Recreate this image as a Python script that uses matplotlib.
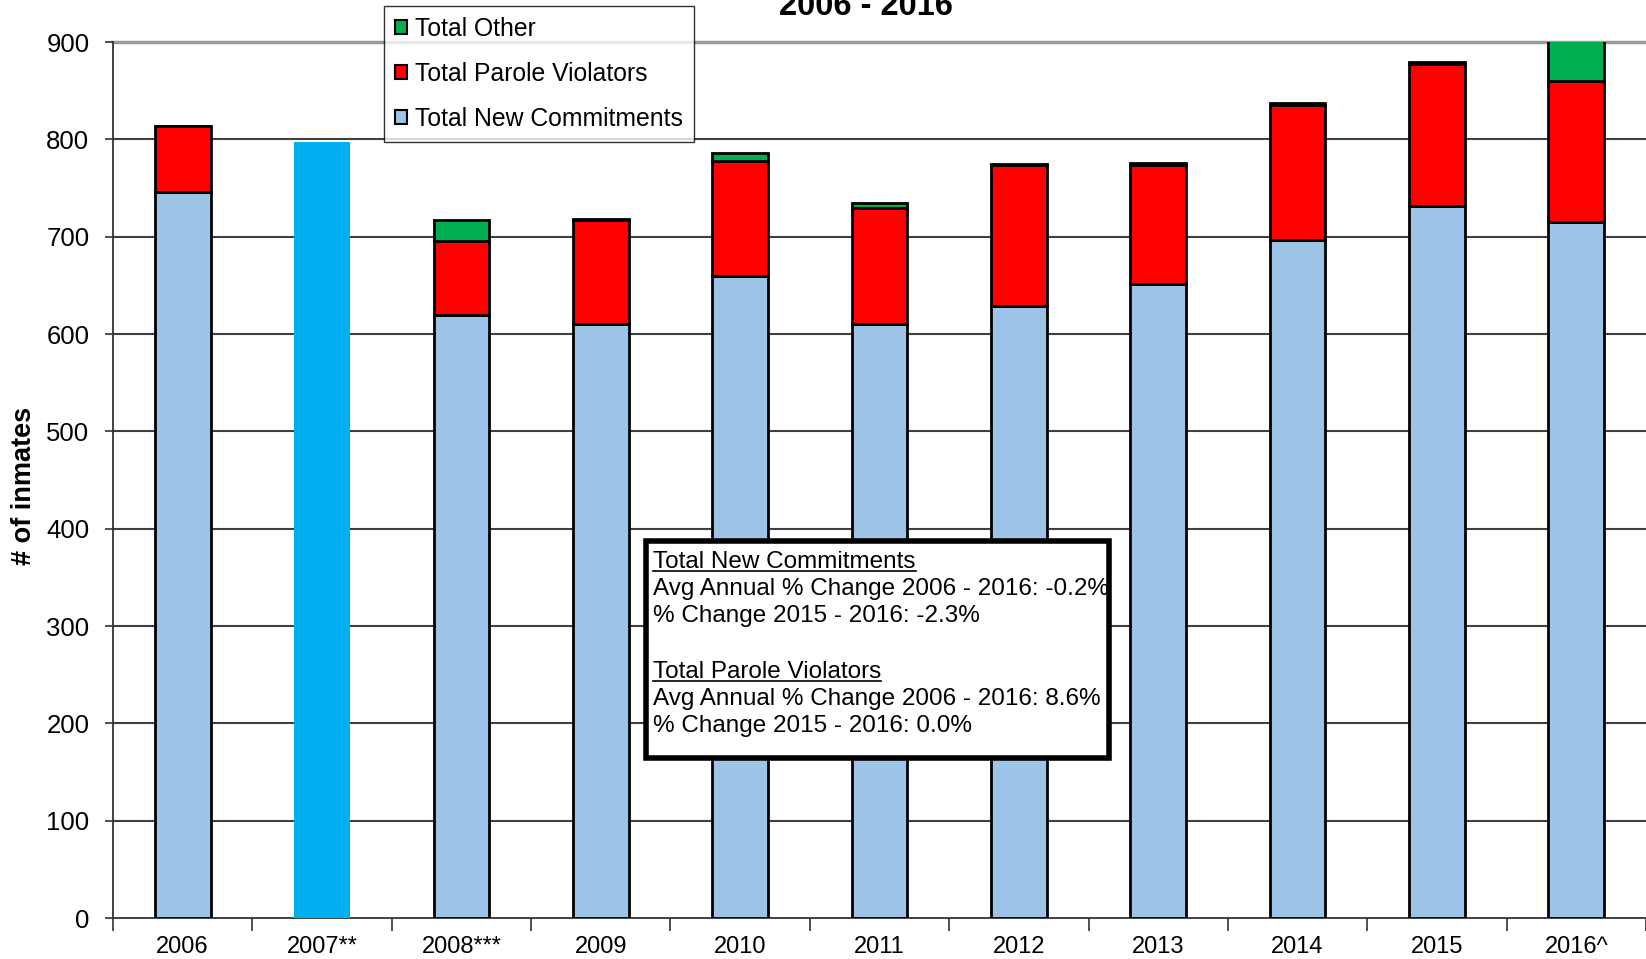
import matplotlib
matplotlib.use("Agg")
import matplotlib.pyplot as plt
import numpy as np
from matplotlib.lines import Line2D
from matplotlib.patches import Rectangle

plt.rcParams['font.family'] = ['Liberation Sans', 'DejaVu Sans']

# ---- data ----
years = ["2006", "2007**", "2008***", "2009", "2010", "2011", "2012", "2013", "2014", "2015", "2016^"]
new_commitments = [746, 0, 620, 610, 660, 610, 629, 651, 697, 732, 715]
parole_violators = [68, 0, 76, 107, 118, 119, 145, 123, 138, 145, 145]
other = [0, 0, 21, 1, 8, 6, 1, 2, 2, 2, 70]
total_2007 = [0, 797, 0, 0, 0, 0, 0, 0, 0, 0, 0]
yticks = [0, 100, 200, 300, 400, 500, 600, 700, 800, 900]

title_text = "2006 - 2016"
ylabel_text = "# of inmates"
legend_labels = ["Total Other", "Total Parole Violators", "Total New Commitments"]
box_lines = [
    ("Total New Commitments", True),
    ("Avg Annual % Change 2006 - 2016: -0.2%", False),
    ("% Change 2015 - 2016: -2.3%", False),
    ("", False),
    ("Total Parole Violators", True),
    ("Avg Annual % Change 2006 - 2016: 8.6%", False),
    ("% Change 2015 - 2016: 0.0%", False),
]

C_NC = "#9DC3E6"
C_PV = "#FF0000"
C_OT = "#00B050"
C_07 = "#00B0F0"

W, H = 1646, 959
fig = plt.figure(figsize=(W / 100, H / 100), dpi=100)

def fx(px):
    return px / W

def fy(py):
    return 1 - py / H

ax_left, ax_right, ax_top, ax_bot = 113, 1646, 42, 918
ax = fig.add_axes([fx(ax_left), fy(ax_bot), fx(ax_right - ax_left), (ax_bot - ax_top) / H])

x = np.arange(len(years))
bw = 0.4
nc = np.array(new_commitments)
pv = np.array(parole_violators)
ot = np.array(other)
t07 = np.array(total_2007)
mask = t07 == 0
ax.bar(x[mask], nc[mask], bw, color=C_NC, edgecolor="black", linewidth=2.0, zorder=3)
ax.bar(x[mask], pv[mask], bw, bottom=nc[mask], color=C_PV, edgecolor="black", linewidth=2.0, zorder=3)
ax.bar(x[mask], ot[mask], bw, bottom=(nc + pv)[mask], color=C_OT, edgecolor="black", linewidth=2.0, zorder=3)
ax.bar(x[~mask], t07[~mask], bw, color=C_07, edgecolor="none", zorder=3)

ax.set_xlim(-0.5, len(years) - 0.5)
ax.set_ylim(0, 900)
ax.set_yticks(yticks)
ax.set_yticklabels([str(v) for v in yticks], fontsize=18.5)
ax.tick_params(axis='y', direction='out', length=6, width=1.2, pad=11, color="#333333")

ax.set_xticks(np.arange(-0.5, len(years), 1.0))
ax.set_xticklabels([])
ax.tick_params(axis='x', which='major', direction='out', length=9, width=1.2, color="#333333")
ax.set_xticks(x, minor=True)
ax.set_xticklabels(years, minor=True, fontsize=17)
ax.tick_params(axis='x', which='minor', length=0, pad=13)

for v in yticks[1:-1]:
    ax.axhline(v, color="#404040", linewidth=1.5, zorder=1)
ax.axhline(900, color="#9a9a9a", linewidth=2.5, zorder=1, clip_on=False)

for s in ["top", "right"]:
    ax.spines[s].set_visible(False)
ax.spines["left"].set_color("#333333")
ax.spines["left"].set_linewidth(1.3)
ax.spines["bottom"].set_color("#333333")
ax.spines["bottom"].set_linewidth(1.3)

# y label
fig.text(fx(24), fy(486), ylabel_text, rotation=90, fontsize=19.5, fontweight="bold",
         ha="center", va="center")

# title (partially cut at top, as in the reference)
fig.text(fx(866), fy(22), title_text, fontsize=23.5, fontweight="bold", ha="center", va="bottom")

# legend
handles = [Rectangle((0, 0), 1, 1, facecolor=c, edgecolor="black", linewidth=1.5)
           for c in [C_OT, C_PV, C_NC]]
leg = fig.legend(handles, legend_labels, loc="upper left",
                 bbox_to_anchor=(fx(384), fy(6)), bbox_transform=fig.transFigure,
                 fontsize=17.8, frameon=True, fancybox=False, shadow=False,
                 borderaxespad=0, borderpad=0.45, labelspacing=0.85,
                 handlelength=0.5, handleheight=0.5, handletextpad=0.3)
leg.get_frame().set_edgecolor("black")
leg.get_frame().set_linewidth(1.0)
leg.set_zorder(10)

# text box
bx0, by0, bx1, by1 = 646, 541, 1109, 758
fig.patches.append(Rectangle((fx(bx0), fy(by1)), fx(bx1 - bx0), (by1 - by0) / H,
                             transform=fig.transFigure, facecolor="white",
                             edgecolor="black", linewidth=4, zorder=5))
line_y = [562, 589, 616, 643, 672, 699, 726]
texts = []
for (t, ul), yy in zip(box_lines, line_y):
    if not t:
        continue
    tt = fig.text(fx(653), fy(yy), t, fontsize=17.5, ha="left", va="center", zorder=6)
    texts.append((tt, ul))

fig.canvas.draw()
r = fig.canvas.get_renderer()
for tt, ul in texts:
    if ul:
        bb = tt.get_window_extent(renderer=r)
        yline = bb.y0 + 2
        fig.add_artist(Line2D([bb.x0 / W, bb.x1 / W], [yline / H, yline / H],
                              transform=fig.transFigure, color="black", linewidth=1.2, zorder=7))

fig.savefig("out.png", dpi=100)
